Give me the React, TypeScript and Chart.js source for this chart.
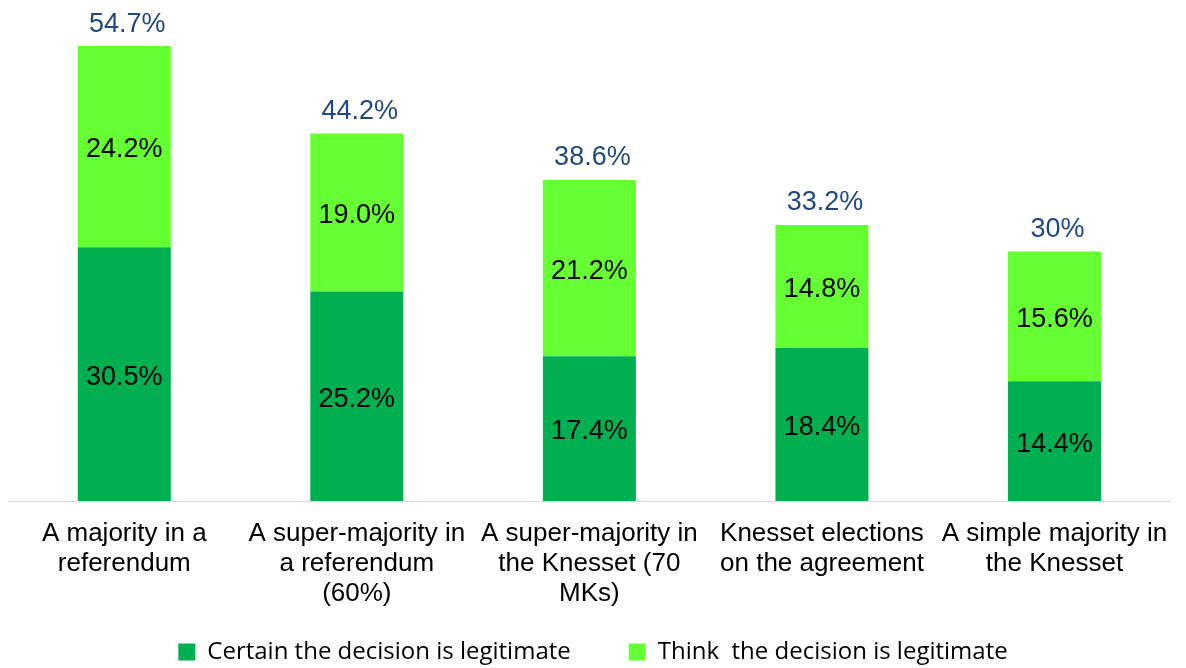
import React, { useEffect, useRef } from "react";
import { Chart, registerables } from "chart.js";

Chart.register(...registerables);

const categories: string[][] = [
  ["A majority in a", "referendum"],
  ["A super-majority in", "a referendum", "(60%)"],
  ["A super-majority in", "the Knesset (70", "MKs)"],
  ["Knesset elections", "on the agreement"],
  ["A simple majority in", "the Knesset"],
];

const certainValues = [30.5, 25.2, 17.4, 18.4, 14.4];
const thinkValues = [24.2, 19.0, 21.2, 14.8, 15.6];
const totalLabels = ["54.7%", "44.2%", "38.6%", "33.2%", "30%"];

const seriesNames = ["Certain the decision is legitimate", "Think  the decision is legitimate"];

const DARK = "#00B050";
const LIGHT = "#66FF33";
const TOTAL_COLOR = "#1F497D";

const labelPlugin = {
  id: "barLabels",
  afterLayout(chart: any) {
    // let the multi-line category labels run below the axis box (not clipped)
    const x = chart.scales.x;
    if (x) x.bottom = chart.height;
  },
  afterDatasetsDraw(chart: any) {
    const ctx = chart.ctx;
    ctx.save();
    ctx.textAlign = "center";
    ctx.textBaseline = "middle";
    ctx.font = "27px 'Liberation Sans', Arial, sans-serif";
    ctx.fillStyle = "#000";
    chart.data.datasets.forEach((ds: any, di: number) => {
      const meta = chart.getDatasetMeta(di);
      meta.data.forEach((el: any, i: number) => {
        const v = ds.data[i];
        const cy = (el.y + el.base) / 2 + 3;
        ctx.fillText(v.toFixed(1) + "%", el.x, cy);
      });
    });
    const lastMeta = chart.getDatasetMeta(chart.data.datasets.length - 1);
    ctx.fillStyle = TOTAL_COLOR;
    lastMeta.data.forEach((el: any, i: number) => {
      ctx.fillText(totalLabels[i], el.x + 3, el.y - 22);
    });
    ctx.restore();
  },
};

export default function App() {
  const ref = useRef<HTMLCanvasElement | null>(null);
  useEffect(() => {
    if (!ref.current) return;
    const chart = new Chart(ref.current, {
      type: "bar",
      data: {
        labels: categories,
        datasets: [
          {
            label: seriesNames[0],
            data: certainValues,
            backgroundColor: DARK,
            borderWidth: 0,
            categoryPercentage: 1,
            barPercentage: 0.4,
          },
          {
            label: seriesNames[1],
            data: thinkValues,
            backgroundColor: LIGHT,
            borderWidth: 0,
            categoryPercentage: 1,
            barPercentage: 0.4,
          },
        ],
      },
      options: {
        responsive: false,
        animation: false,
        layout: { padding: { left: 8, right: 8, top: 2, bottom: 0 } },
        plugins: {
          tooltip: { enabled: false },
          legend: {
            position: "bottom",
            maxHeight: 86,
            labels: {
              boxWidth: 17,
              boxHeight: 17,
              padding: 58,
              color: "#000",
              font: { family: "'Open Sans', sans-serif", size: 24 },
            },
          },
        },
        scales: {
          x: {
            stacked: true,
            grid: { display: false, drawTicks: false },
            border: { display: true, color: "#d9d9d9", width: 1 },
            ticks: {
              color: "#000",
              autoSkip: false,
              maxRotation: 0,
              minRotation: 0,
              padding: 18,
              font: { family: "'Liberation Sans', Arial, sans-serif", size: 26, lineHeight: 1.15 },
            },
            afterFit: (scale: any) => {
              scale.height = 81;
            },
          },
          y: {
            stacked: true,
            display: false,
            min: 0,
            max: 60,
          },
        },
      },
      plugins: [labelPlugin],
    });
    return () => chart.destroy();
  }, []);
  return (
    <div style={{ position: "absolute", left: 0, top: 0, width: 1186, height: 668, background: "#fff" }}>
      <canvas ref={ref} width={1186} height={668} style={{ display: "block" }} />
    </div>
  );
}
